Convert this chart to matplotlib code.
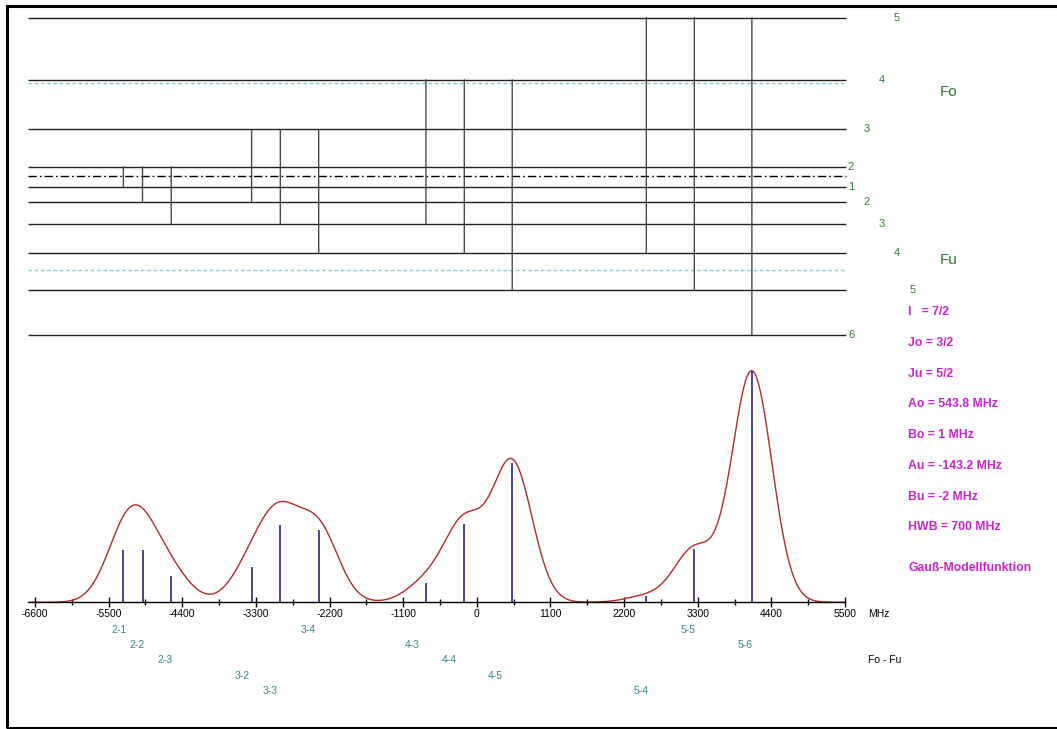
import numpy as np
import matplotlib.pyplot as plt
from matplotlib.patches import ConnectionPatch, Rectangle

plt.rcParams['font.family'] = ['Liberation Sans', 'DejaVu Sans']
plt.rcParams['axes.unicode_minus'] = False

# hyperfine levels, upper (Fo) and lower (Fu) term, MHz
F_up = [2, 3, 4, 5]
E_up = [-3670.1, -2039.4, 135.5, 2855.2]
F_lo = [1, 2, 3, 4, 5, 6]
E_lo = [1609.9, 1324.1, 895.1, 322.8, -393.3, -1253.5]

# transitions Fo - Fu
tr_up = [2, 2, 2, 3, 3, 3, 4, 4, 4, 5, 5, 5]
tr_lo = [1, 2, 3, 2, 3, 4, 3, 4, 5, 4, 5, 6]
tr_freq = [-5280, -4994, -4565, -3364, -2935, -2362, -760, -187, 529, 2532, 3249, 4109]
tr_int = [22.6, 22.6, 11.2, 15.2, 33.4, 31.1, 8.2, 33.8, 60.3, 2.7, 23.1, 100.0]

hwb = 700  # MHz
xticks = np.arange(-6600, 5501, 1100)
params = ['I   = 7/2', 'Jo = 3/2', 'Ju = 5/2', 'Ao = 543.8 MHz', 'Bo = 1 MHz',
          'Au = -143.2 MHz', 'Bu = -2 MHz', 'HWB = 700 MHz']
model_name = 'Gauß-Modellfunktion'

W, H = 1057, 729
def fx(px):
    return px / W
def fy(py):
    return 1 - py / H

green = '#2f7a2f'
teal = '#2f8a8a'
magenta = '#cc22cc'

fig = plt.figure(figsize=(W / 100, H / 100), dpi=100)
fig.add_artist(Rectangle((fx(6.5), fy(727.5)), fx(1080), fy(6) - fy(727.5),
                         transform=fig.transFigure, fill=False, lw=2.2, ec='black'))

XL, XR = -6700, 5500
ax_left, ax_right = 28.3, 845

# ---- spectrum ----
base_px, top_px, full_px = 602.3, 340, 370.7
ax_s = fig.add_axes([fx(ax_left), fy(base_px), (ax_right - ax_left) / W, (base_px - top_px) / H])
ax_s.set_xlim(XL, XR)
ax_s.set_ylim(0, max(tr_int) * (base_px - top_px) / (base_px - full_px))
ax_s.patch.set_visible(False)
for s in ['top', 'left', 'right']:
    ax_s.spines[s].set_visible(False)
ax_s.spines['bottom'].set_linewidth(1)
ax_s.set_yticks([])
ax_s.set_xticks(xticks)
ax_s.set_xticks(xticks[:-1] + 550, minor=True)
ax_s.tick_params(axis='x', which='major', direction='inout', length=7, width=1,
                 labelsize=7.5, pad=1.5)
ax_s.tick_params(axis='x', which='minor', direction='inout', length=4.5, width=1)

sigma = hwb / (2 * np.sqrt(2 * np.log(2)))
xs = np.linspace(-6670, XR, 1500)
curve = np.zeros_like(xs)
for f, a in zip(tr_freq, tr_int):
    curve += a * np.exp(-(xs - f) ** 2 / (2 * sigma ** 2))
curve *= max(tr_int) / curve.max()
ax_s.plot(xs, curve, color='#b22a2a', lw=1.0, clip_on=False)
ax_s.vlines(tr_freq, 0, tr_int, color='#45459a', lw=1.4)

label_dx = [-4, -5, -6, -9, -10, -11, -14, -15, -17, -5, -6, -7]
for i, (u, l, f) in enumerate(zip(tr_up, tr_lo, tr_freq)):
    ax_s.annotate(f'{u}-{l}', xy=(f, 0), xytext=(label_dx[i], -(27.7 + 15.2 * (i % 5))),
                  textcoords='offset pixels', ha='center', va='center',
                  fontsize=7.5, color=teal, annotation_clip=False)

# ---- level diagram ----
d_top, d_bot = 0, 350
rect = [fx(ax_left), fy(d_bot), (ax_right - ax_left) / W, (d_bot - d_top) / H]
ax_up = fig.add_axes(rect)
ax_lo = fig.add_axes(rect)

def set_levels(ax, E, y_hi, y_lo):
    s = (y_lo - y_hi) / (max(E) - min(E))
    ax.set_ylim(max(E) - (d_bot - y_hi) / s, max(E) + (y_hi - d_top) / s)
    ax.set_xlim(XL, XR)
    ax.axis('off')

set_levels(ax_up, E_up, 17.7, 166.7)
set_levels(ax_lo, E_lo, 186.7, 335.0)

xr_line = 5515
for ax, F, E in [(ax_up, F_up, E_up), (ax_lo, F_lo, E_lo)]:
    ax.hlines(E, XL, xr_line, color='#222222', lw=1.0, clip_on=False)
    ax.hlines(0, XL, xr_line, color='#7fd0d0', lw=1.0, linestyles=(0, (2.5, 2)), clip_on=False)
    for k, (fv, e) in enumerate(zip(F, E)):
        ax.annotate(str(fv), xy=(xr_line, e), xytext=(5 + 15.3 * (k % 5), 0),
                    textcoords='offset pixels', ha='center', va='center',
                    fontsize=8, color=green, annotation_clip=False)

ax_up.plot([XL, xr_line], [1 - 176.3 / 350] * 2, transform=ax_up.get_xaxis_transform(),
           color='black', lw=1.0, dashes=(6, 2.2, 1.2, 2.2), clip_on=False)

for u, l, f in zip(tr_up, tr_lo, tr_freq):
    con = ConnectionPatch((f, E_up[F_up.index(u)]), (f, E_lo[F_lo.index(l)]),
                          coordsA=ax_up.transData, coordsB=ax_lo.transData,
                          color='#4a4a4a', lw=1.0)
    fig.add_artist(con)

# ---- texts ----
fig.text(fx(940), fy(91.7), 'Fo', fontsize=11, color=green, va='center')
fig.text(fx(940), fy(260), 'Fu', fontsize=11, color=green, va='center')
fig.text(fx(867.7), fy(614), 'MHz', fontsize=7.5, va='center')
fig.text(fx(867.7), fy(660), 'Fo - Fu', fontsize=7.5, va='center')
for i, p in enumerate(params):
    fig.text(fx(908.3), fy(312.3 + 30.7 * i), p, fontsize=8.8, fontweight='bold',
             color=magenta, va='center')
fig.text(fx(908.3), fy(567.7), model_name, fontsize=8.8, fontweight='bold',
         color=magenta, va='center')

fig.savefig('out.png', dpi=100)
